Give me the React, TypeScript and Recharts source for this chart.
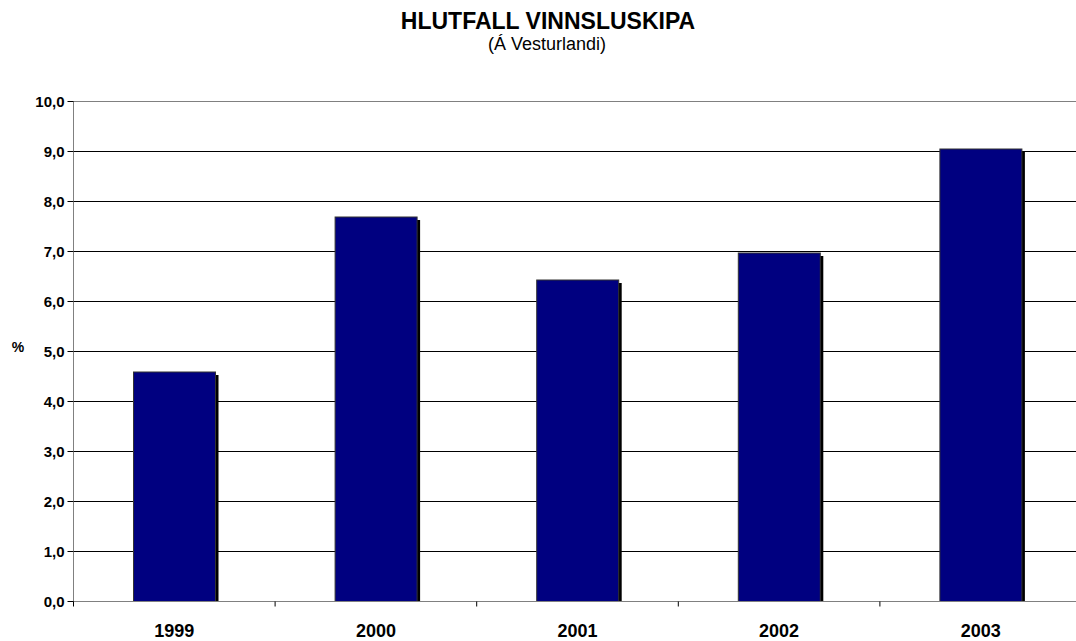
import { Bar, BarChart, CartesianGrid, ReferenceLine, XAxis, YAxis } from "recharts";

const years = ["1999", "2000", "2001", "2002", "2003"];
const shares = [4.59, 7.69, 6.43, 6.97, 9.05];
const yTicks = [0, 1, 2, 3, 4, 5, 6, 7, 8, 9, 10];

const data = years.map((year, i) => ({ year, share: shares[i] }));

// half-pixel margins keep the 1px grid lines crisp
const CHART_W = 1090;
const CHART_H = 641;
const MARGIN = { top: 101.5, right: 8.5, bottom: 9.5, left: 9.5 };
const Y_AXIS_W = 64;
const X_AXIS_H = 30;
const PLOT_LEFT = MARGIN.left + Y_AXIS_W;
const PLOT_RIGHT = CHART_W - MARGIN.right;
const AXIS_Y = CHART_H - MARGIN.bottom - X_AXIS_H;
const STEP = (PLOT_RIGHT - PLOT_LEFT) / years.length;

const font = "'Liberation Sans', Arial, sans-serif";

function ShadowBar(props: any) {
  const { x, y, width, height } = props;
  if (!height || height <= 0) return null;
  return (
    <g>
      <rect x={x + 3} y={y + 3} width={width} height={height - 3} fill="#000" />
      <rect x={x} y={y} width={width} height={height} fill="#000080" stroke="#333" strokeWidth={1} />
    </g>
  );
}

function YearTick(props: any) {
  const { x, payload } = props;
  const bx = x - STEP / 2;
  return (
    <g>
      <line x1={bx} y1={AXIS_Y} x2={bx} y2={AXIS_Y + 5} stroke="#000" strokeWidth={1} />
      <text
        x={x}
        y={AXIS_Y + 35}
        textAnchor="middle"
        fontFamily={font}
        fontWeight="bold"
        fontSize={18}
        fill="#000"
      >
        {payload.value}
      </text>
    </g>
  );
}

export default function App() {
  return (
    <div
      style={{
        position: "absolute",
        left: 0,
        top: 0,
        width: 1076,
        height: 641,
        overflow: "hidden",
        background: "#fff",
        fontFamily: font,
      }}
    >
      <BarChart width={CHART_W} height={CHART_H} data={data} margin={MARGIN} barSize={82}>
        <CartesianGrid vertical={false} stroke="#000" strokeWidth={1} />
        <ReferenceLine y={10} stroke="#808080" strokeWidth={1} />
        <XAxis
          dataKey="year"
          height={X_AXIS_H}
          axisLine={{ stroke: "#808080" }}
          tickLine={false}
          tick={<YearTick />}
          interval={0}
        />
        <YAxis
          width={Y_AXIS_W}
          domain={[0, 10]}
          ticks={yTicks}
          interval={0}
          tickFormatter={(v: number) => v.toFixed(1).replace(".", ",")}
          axisLine={{ stroke: "#808080" }}
          tickLine={{ stroke: "#000" }}
          tickSize={6}
          tickMargin={3}
          tick={{ fill: "#000", fontSize: 15, fontWeight: "bold", fontFamily: font }}
        />
        <Bar dataKey="share" shape={<ShadowBar />} isAnimationActive={false} />
      </BarChart>
      <svg
        width={1076}
        height={641}
        style={{ position: "absolute", left: 0, top: 0, pointerEvents: "none" }}
      >
        <text x={548} y={29} textAnchor="middle" fontFamily={font} fontWeight="bold" fontSize={23} fill="#000">
          HLUTFALL VINNSLUSKIPA
        </text>
        <text x={547} y={49.5} textAnchor="middle" fontFamily={font} fontSize={18} fill="#000">
          (Á Vesturlandi)
        </text>
        <text x={18} y={351.5} textAnchor="middle" fontFamily={font} fontWeight="bold" fontSize={14} fill="#000">
          %
        </text>
      </svg>
    </div>
  );
}
